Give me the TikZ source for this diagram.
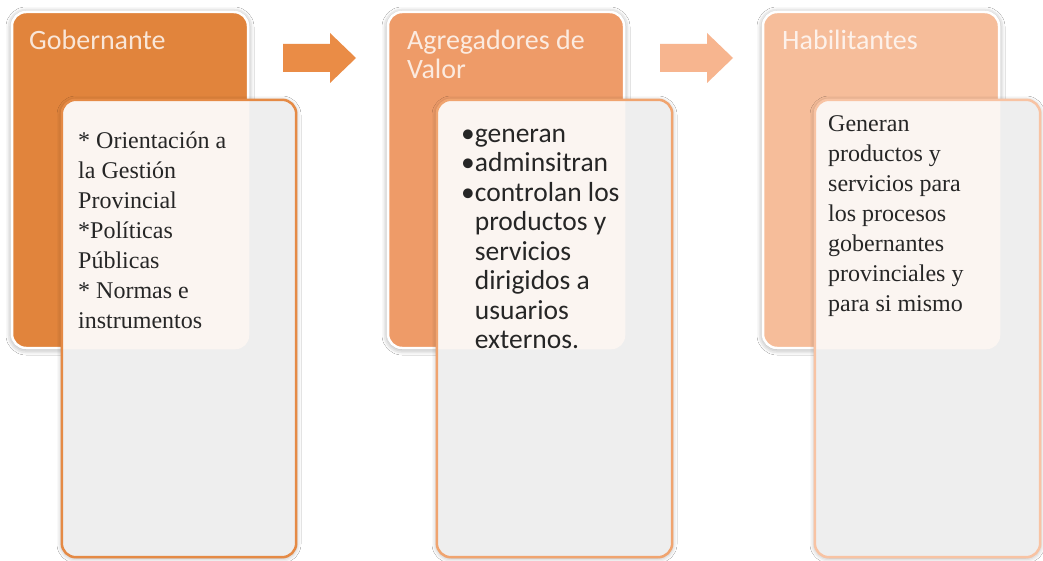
\documentclass[tikz,border=0pt]{standalone}
\usepackage{fontspec}
\setmainfont{Liberation Serif}
\newfontfamily\carlito{Carlito}
\usetikzlibrary{shadows.blur}
\definecolor{gobfill}{HTML}{E1843C}
\definecolor{agrfill}{HTML}{EE9B68}
\definecolor{habfill}{HTML}{F6BD9A}
\definecolor{gobline}{HTML}{E58A45}
\definecolor{agrline}{HTML}{F0A46F}
\definecolor{habline}{HTML}{F8C3A3}
\definecolor{arrowone}{HTML}{EA8C46}
\definecolor{arrowtwo}{HTML}{F7B58F}
\definecolor{cardgrey}{HTML}{EEEEEE}
\definecolor{cardwhite}{HTML}{FBF5F1}
\definecolor{inkgrey}{HTML}{262626}

\begin{document}
\begin{tikzpicture}[x=1pt,y=-1pt,
    stage/.style={draw=white,line width=2.5pt,rounded corners=14pt,minimum width=236pt,minimum height=336pt,inner sep=0pt,
      blur shadow={shadow xshift=0pt,shadow yshift=-1pt,shadow blur radius=6pt,shadow opacity=45}},
    card/.style={fill=cardgrey,rounded corners=14pt,minimum height=457pt,inner sep=0pt,
      blur shadow={shadow xshift=0pt,shadow yshift=-1pt,shadow blur radius=5pt,shadow opacity=35}},
    cardline/.style={line width=2.5pt,rounded corners=14pt},
    head/.style={font=\carlito\fontsize{28}{27}\selectfont,text=white,text opacity=.8,anchor=north west,align=left,inner sep=0pt},
    serifnote/.style={font=\fontsize{24}{30}\selectfont,text=inkgrey,anchor=north west,align=left,inner sep=0pt},
    bulletnote/.style={font=\carlito\fontsize{27.5}{29.5}\selectfont,text=inkgrey,anchor=north west,align=left,inner sep=0pt}]
  \fill[white] (0,0) rectangle (1043,561);
  \useasboundingbox (0,0) rectangle (1043,561);

  % tarjetas de fondo
  \node[stage,fill=gobfill] (gob) at (130,180) {};
  \node[stage,fill=agrfill] (agr) at (506,180) {};
  \node[stage,fill=habfill] (hab) at (881,180) {};

  % flechas
  \fill[arrowone] (283,44) -- (330,44) -- (330,33) -- (356,58) -- (330,83) -- (330,72) -- (283,72) -- cycle;
  \fill[arrowtwo] (660,44) -- (707,44) -- (707,33) -- (733,58) -- (707,83) -- (707,72) -- (660,72) -- cycle;

  % tarjetas de texto
  \node[card,minimum width=234pt] (gobtxt) at (179,328.5) {};
  \node[card,minimum width=235pt] (agrtxt) at (554.5,328.5) {};
  \node[card,minimum width=225pt] (habtxt) at (927.5,328.5) {};

  \begin{scope}
    \clip[rounded corners=14pt] (gobtxt.north west) rectangle (gobtxt.south east);
    \fill[cardwhite,rounded corners=14pt] (gob.north west) rectangle (gob.south east);
  \end{scope}
  \begin{scope}
    \clip[rounded corners=14pt] (agrtxt.north west) rectangle (agrtxt.south east);
    \fill[cardwhite,rounded corners=14pt] (agr.north west) rectangle (agr.south east);
  \end{scope}
  \begin{scope}
    \clip[rounded corners=14pt] (habtxt.north west) rectangle (habtxt.south east);
    \fill[cardwhite,rounded corners=14pt] (hab.north west) rectangle (hab.south east);
  \end{scope}

  \draw[cardline,gobline] (gobtxt.north west) rectangle (gobtxt.south east);
  \draw[cardline,agrline] (agrtxt.north west) rectangle (agrtxt.south east);
  \draw[cardline,habline] (habtxt.north west) rectangle (habtxt.south east);

  % titulos
  \node[head] (gobhead) at (29,30) {\strut Gobernante};
  \node[head] (agrhead) at (407,30) {\strut Agregadores de\\Valor};
  \node[head] (habhead) at (782,30) {\strut Habilitantes};

  % contenidos
  \node[serifnote] (gobnote) at (78,127) {\strut * Orientación a\\la Gestión\\Provincial\\*Políticas\\Públicas\\* Normas e\\instrumentos};
  \node[bulletnote] (agrnote) at (461,121.5) {\strut\textbullet generan\\\textbullet adminsitran\\\textbullet controlan los\\\phantom{\textbullet}productos y\\\phantom{\textbullet}servicios\\\phantom{\textbullet}dirigidos a\\\phantom{\textbullet}usuarios\\\phantom{\textbullet}externos.};
  \node[serifnote] (habnote) at (828,110) {\strut Generan\\productos y\\servicios para\\los procesos\\gobernantes\\provinciales y\\para si mismo};
\end{tikzpicture}
\end{document}
